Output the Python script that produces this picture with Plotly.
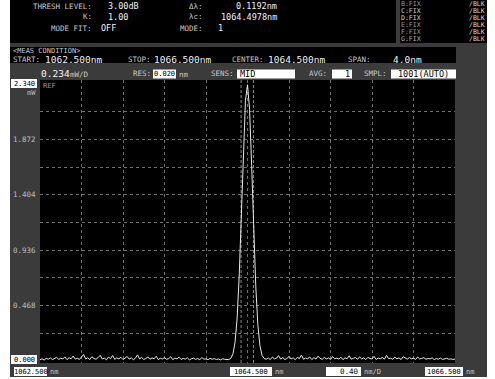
import numpy as np
import plotly.graph_objects as go

W, H = 495, 379
MONO = "DejaVu Sans Mono"

# ---- measurement settings -------------------------------------------------
start_nm = 1062.5
stop_nm = 1066.5
center_nm = 1064.5
span_nm = 4.0
n_samples = 201
ref_level_mw = 2.340
lin_div_mw = 0.234
nm_per_div = 0.40
lambda_c = 1064.4978
delta_lambda = 0.1192

y_tick_values = [2.340, 1.872, 1.404, 0.936, 0.468, 0.000]
y_tick_labels = ["2.340", "1.872", "1.404", "0.936", "0.468", "0.000"]
x_tick_values = [1062.5, 1064.5, 1066.5]
x_tick_labels = ["1062.500", "1064.500", "1066.500"]

# ---- trace A (mW) ---------------------------------------------------------
noise_left = [
    0.010, 0.018, 0.008, 0.022, 0.015, 0.026, 0.012, 0.020, 0.031, 0.014,
    0.024, 0.017, 0.035, 0.011, 0.028, 0.019, 0.042, 0.016, 0.023, 0.013,
    0.030, 0.055, 0.018, 0.027, 0.012, 0.036, 0.021, 0.015, 0.029, 0.048,
    0.017, 0.025, 0.010, 0.033, 0.020, 0.046, 0.014, 0.026, 0.019, 0.031,
    0.012, 0.022, 0.038, 0.016, 0.027, 0.011, 0.024, 0.052, 0.018, 0.030,
    0.013, 0.021, 0.034, 0.015, 0.026, 0.019, 0.040, 0.012, 0.023, 0.017,
    0.029, 0.014, 0.020, 0.036, 0.011, 0.025, 0.018, 0.032, 0.013, 0.022,
    0.016, 0.027, 0.010, 0.019, 0.024, 0.014, 0.021, 0.012, 0.028, 0.016,
    0.018, 0.011, 0.023, 0.015, 0.020, 0.013, 0.017, 0.010, 0.019, 0.014,
    0.016,
]
peak = [
    0.012, 0.024, 0.060, 0.158, 0.362, 0.718, 1.220, 1.768, 2.198, 2.334,
    2.126, 1.650, 1.101, 0.626, 0.305, 0.129, 0.048, 0.021,
]
noise_right = [
    0.015, 0.026, 0.012, 0.033, 0.018, 0.024, 0.045, 0.016, 0.029, 0.013,
    0.021, 0.038, 0.017, 0.027, 0.011, 0.031, 0.020, 0.050, 0.015, 0.025,
    0.019, 0.034, 0.012, 0.028, 0.017, 0.041, 0.022, 0.014, 0.030, 0.018,
    0.026, 0.013, 0.037, 0.020, 0.024, 0.016, 0.032, 0.011, 0.027, 0.019,
    0.044, 0.015, 0.023, 0.029, 0.014, 0.035, 0.018, 0.026, 0.012, 0.031,
    0.021, 0.017, 0.039, 0.013, 0.025, 0.019, 0.030, 0.016, 0.047, 0.020,
    0.024, 0.014, 0.033, 0.018, 0.027, 0.012, 0.036, 0.022, 0.016, 0.029,
    0.019, 0.025, 0.013, 0.034, 0.017, 0.023, 0.028, 0.015, 0.021, 0.018,
    0.026, 0.012, 0.020, 0.016, 0.024, 0.014, 0.019, 0.022, 0.015, 0.018,
    0.013, 0.017,
]
power_mw = noise_left + peak + noise_right
wavelength_nm = np.linspace(start_nm, stop_nm, n_samples)

# ---- screen geometry (pixels) --------------------------------------------
PLOT_L, PLOT_R = 40, 455
PLOT_T, PLOT_B = 80, 363
ZERO_PX, REF_PX = 361, 84
scale = (ZERO_PX - REF_PX) / ref_level_mw
y_lo = -(PLOT_B - ZERO_PX) / scale
y_hi = ref_level_mw + (REF_PX - PLOT_T) / scale


def px(x):
    return x / W


def py(y):
    return 1 - y / H


shapes = []
ann = []


def rect(x0, y0, x1, y1, fill, layer="below"):
    shapes.append(dict(type="rect", xref="paper", yref="paper",
                       x0=px(x0), x1=px(x1), y0=py(y1), y1=py(y0),
                       fillcolor=fill, line=dict(width=0), layer=layer))


def text(x, y, s, size=9, color="#eeeeee", xa="left"):
    ann.append(dict(x=px(x), y=py(y), xref="paper", yref="paper", text=s,
                    showarrow=False, xanchor=xa, yanchor="middle",
                    borderpad=0,
                    font=dict(family=MONO, size=size, color=color)))


LBL = "#c8c8c8"
VAL = "#f2f2f2"

# panels
rect(10, 0, 487, 377, "#3b3b3b")
rect(10, 0, 396, 43, "#000000")
rect(400, 0, 487, 43, "#000000")
rect(10, 47, 456, 63, "#000000")
rect(PLOT_L, PLOT_T, PLOT_R, PLOT_B, "#000000")

# header: analysis results
HV = 8.5
text(93, 6.5, "THRESH LEVEL:", 7.5, LBL, "right")
text(107, 6.5, "3.00dB", HV, VAL)
text(93, 17, "K:", 7.5, LBL, "right")
text(107, 17, "1.00", HV, VAL)
text(93, 28, "MODE FIT:", 7.5, LBL, "right")
text(100, 28, "OFF", HV, VAL)
text(204, 6.5, "Δλ:", 7.5, LBL, "right")
text(278, 6.5, f"{delta_lambda:.4f}nm", HV, VAL, "right")
text(204, 17, "λc:", 7.5, LBL, "right")
text(278, 17, f"{lambda_c:.4f}nm", HV, VAL, "right")
text(204, 28, "MODE:", 7.5, LBL, "right")
text(217, 28, "1", HV, VAL)

# trace status panel
trace_rows = ["B", "C", "D", "E", "F", "G"]
row_colors = ["#9a9a9a", "#d0d0d0", "#d0d0d0", "#9a9a9a", "#9a9a9a", "#b0b0b0"]
for k, (name, col) in enumerate(zip(trace_rows, row_colors)):
    yy = 4 + 7 * k
    text(400, yy, f"{name}:FIX", 6.5, col)
    text(486, yy, "/BLK", 6.5, "#d8d8d8", "right")

# measurement condition band
text(12, 51, "&lt;MEAS CONDITION&gt;", 7, LBL)
text(12, 59.5, "START:", 7.5, LBL)
text(44, 59.5, f"{start_nm:.3f}nm", 9.5, VAL)
text(127, 59.5, "STOP:", 7.5, LBL)
text(153, 59.5, f"{stop_nm:.3f}nm", 9.5, VAL)
text(231, 59.5, "CENTER:", 7.5, LBL)
text(267, 59.5, f"{center_nm:.3f}nm", 9.5, VAL)
text(347, 59.5, "SPAN:", 7.5, LBL)
text(392, 59.5, f"{span_nm:.1f}nm", 9.5, VAL)

# settings row
text(40, 74, f"{lin_div_mw:.3f}", 9.5, VAL)
text(69, 74.5, "mW/D", 7.5, LBL)
text(132, 74, "RES:", 7.5, LBL)
rect(153, 69.5, 176, 78.5, "#ffffff")
text(164.5, 74, "0.020", 7, "#000000", "center")
text(178, 74.5, "nm", 7.5, LBL)
text(210, 74, "SENS:", 7.5, LBL)
rect(237, 69.5, 295, 78.5, "#ffffff")
text(239, 74, "MID", 8.5, "#000000")
text(308, 74, "AVG:", 7.5, LBL)
rect(332, 69.5, 352, 78.5, "#ffffff")
text(351, 74, "1", 8.5, "#000000", "right")
text(363, 74, "SMPL:", 7.5, LBL)
rect(391, 69.5, 456, 78.5, "#ffffff")
text(423.5, 74, "1001(AUTO)", 8.5, "#000000", "center")

# level scale
for val, lab in zip(y_tick_values, y_tick_labels):
    if val in (ref_level_mw, 0.0):
        yc = 83.5 if val == ref_level_mw else 359.5
        rect(11, yc - 4.5, 37, yc + 4.5, "#ffffff")
        text(24, yc, lab, 7, "#000000", "center")
    else:
        ann.append(dict(x=px(37), y=val, xref="paper", yref="y", text=lab,
                        showarrow=False, xanchor="right", yanchor="middle",
                        borderpad=0,
                        font=dict(family=MONO, size=7.5, color="#bdbdbd")))
text(37, 93, "mW", 7, "#bdbdbd", "right")
text(42, 86, "REF", 7, "#9a9a9a")

# wavelength scale
box_px = {1062.5: (14, 47), 1064.5: (230, 272), 1066.5: (425, 463)}
for val, lab in zip(x_tick_values, x_tick_labels):
    x0, x1 = box_px[val]
    rect(x0, 367, x1, 376, "#ffffff")
    text((x0 + x1) / 2, 371.5, lab, 7, "#000000", "center")
    text(x1 + 2, 372, "nm", 7, LBL)
rect(326, 367, 361, 376, "#ffffff")
text(360, 371.5, f"{nm_per_div:.2f}", 7.5, "#000000", "right")
text(363, 372, "nm/D", 7, LBL)

# threshold markers around the peak
for xm in (lambda_c - delta_lambda / 2, lambda_c + delta_lambda / 2):
    shapes.append(dict(type="line", xref="x", yref="paper", x0=xm, x1=xm,
                       y0=py(PLOT_B), y1=py(PLOT_T),
                       line=dict(color="#8a8a8a", width=1, dash="3px,2px"),
                       layer="below"))

fig = go.Figure()
fig.add_trace(go.Scatter(x=wavelength_nm, y=power_mw, mode="lines",
                         line=dict(color="#e8e8e8", width=1),
                         hoverinfo="skip", showlegend=False))

x_grid = [start_nm + nm_per_div * k for k in range(1, 10)]
y_grid = [lin_div_mw * k for k in range(1, 10)]

fig.update_layout(
    width=W, height=H,
    margin=dict(l=0, r=0, t=0, b=0),
    paper_bgcolor="#ffffff",
    plot_bgcolor="rgba(0,0,0,0)",
    shapes=shapes,
    annotations=ann,
    showlegend=False,
    xaxis=dict(domain=[px(PLOT_L), px(PLOT_R)], range=[start_nm, stop_nm],
               tickvals=x_grid, showticklabels=False, ticks="",
               showgrid=True, gridcolor="#6e6e6e", gridwidth=1,
               griddash="3px,3px", zeroline=False, showline=False,
               fixedrange=True),
    yaxis=dict(domain=[py(PLOT_B), py(PLOT_T)], range=[y_lo, y_hi],
               tickvals=y_grid, showticklabels=False, ticks="",
               showgrid=True, gridcolor="#6e6e6e", gridwidth=1,
               griddash="3px,3px", zeroline=False, showline=False,
               fixedrange=True),
)

fig.write_html("out.html")
